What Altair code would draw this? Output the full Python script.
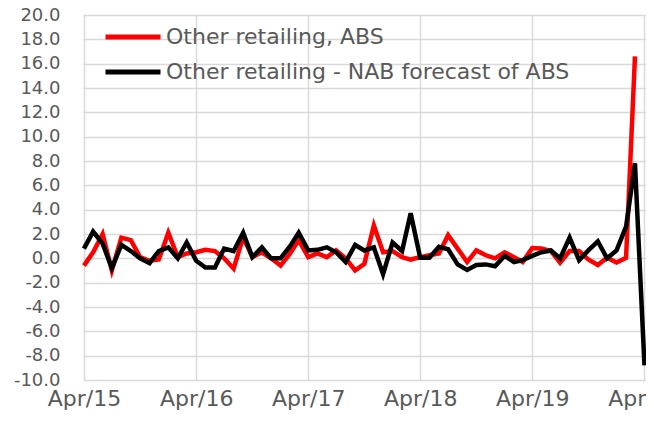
import altair as alt
import pandas as pd

months = pd.date_range("2015-04-01", "2020-04-01", freq="MS").strftime("%Y-%m-%d").tolist()

abs_vals = [
    -0.6, 0.5, 2.0, -1.0, 1.7, 1.5, 0.1, -0.2, -0.1, 2.1, 0.1, 0.4,
    0.5, 0.7, 0.6, 0.0, -0.85, 1.75, 0.1, 0.5, 0.0, -0.6, 0.4, 1.5,
    0.1, 0.4, 0.1, 0.65, 0.0, -1.0, -0.45, 2.7, 0.5, 0.6, 0.1, -0.1,
    0.1, 0.25, 0.4, 1.9, 0.8, -0.3, 0.65, 0.25, 0.0, 0.5, 0.1, -0.3,
    0.85, 0.8, 0.6, -0.35, 0.6, 0.6, -0.1, -0.55, 0.05, -0.35, 0.05, 16.6,
]
nab_vals = [
    0.8, 2.2, 1.2, -0.8, 1.1, 0.6, 0.0, -0.4, 0.6, 0.9, 0.0, 1.3,
    -0.2, -0.75, -0.75, 0.8, 0.6, 2.1, 0.1, 0.9, 0.0, 0.0, 1.0, 2.1,
    0.65, 0.7, 0.9, 0.5, -0.3, 1.1, 0.65, 0.9, -1.3, 1.3, 0.6, 3.7,
    0.05, 0.05, 0.95, 0.75, -0.5, -0.95, -0.55, -0.5, -0.65, 0.2, -0.3, -0.15,
    0.2, 0.5, 0.65, 0.0, 1.7, -0.15, 0.65, 1.4, 0.0, 0.65, 2.6, 7.8, -8.8,
]

series_names = ["Other retailing, ABS", "Other retailing - NAB forecast of ABS"]
series_colors = ["#ff0000", "#000000"]
year_ticks = [2015, 2016, 2017, 2018, 2019, 2020]
y_ticks = list(range(-10, 21, 2))

df_abs = pd.DataFrame({"month": months[:len(abs_vals)], "value": abs_vals, "series": series_names[0]})
df_nab = pd.DataFrame({"month": months[:len(nab_vals)], "value": nab_vals, "series": series_names[1]})

font = "DejaVu Sans"
label_color = "#595959"
grid_color = "#d9d9d9"

x_enc = alt.X(
    "month:T",
    scale=alt.Scale(
        type="utc",
        domain=[alt.DateTime(year=2015, month=3, date=29, utc=True),
                alt.DateTime(year=2020, month=4, date=6, utc=True)],
    ),
    axis=alt.Axis(
        values=[alt.DateTime(year=y, month=4, date=1, utc=True) for y in year_ticks],
        labelExpr="utcFormat(datum.value, '%b/%y')",
        title=None,
        grid=True,
        gridColor=grid_color,
        gridWidth=1.5,
        domain=False,
        ticks=False,
        labelFont=font,
        labelFontSize=22,
        labelColor=label_color,
        labelPadding=8,
        labelOverlap=False,
        labelFlush=False,
    ),
)
y_enc = alt.Y(
    "value:Q",
    scale=alt.Scale(domain=[-10, 20], nice=False, zero=False),
    axis=alt.Axis(
        values=y_ticks,
        labelExpr="(datum.value < 0 ? '-' : '') + format(abs(datum.value), '.1f')",
        title=None,
        grid=True,
        gridColor=grid_color,
        gridWidth=1.5,
        domain=False,
        ticks=False,
        labelFont=font,
        labelFontSize=18,
        labelColor=label_color,
        labelPadding=23,
        labelOverlap=False,
        labelFlush=False,
    ),
)
color_enc = alt.Color(
    "series:N",
    scale=alt.Scale(domain=series_names, range=series_colors),
    legend=alt.Legend(
        title=None,
        orient="none",
        legendX=20,
        legendY=11,
        symbolType="stroke",
        symbolSize=3025,
        symbolStrokeWidth=5,
        labelFont=font,
        labelFontSize=22,
        labelColor=label_color,
        labelOffset=3,
        clipHeight=22,
        rowPadding=13,
        padding=0,
        labelLimit=600,
    ),
)

red = alt.Chart(df_abs).mark_line(strokeWidth=4.5, strokeJoin="miter").encode(x=x_enc, y=y_enc, color=color_enc)
black = alt.Chart(df_nab).mark_line(strokeWidth=4.5, strokeJoin="miter").encode(x=x_enc, y=y_enc, color=color_enc)

chart = alt.layer(red, black).properties(
    width=563,
    height=365,
    autosize=alt.AutoSizeParams(type="none"),
    padding={"left": 75, "top": 7, "right": 0, "bottom": 35},
).configure_view(stroke=None)

chart.save("out.html", embed_options={"renderer": "svg", "actions": False})
